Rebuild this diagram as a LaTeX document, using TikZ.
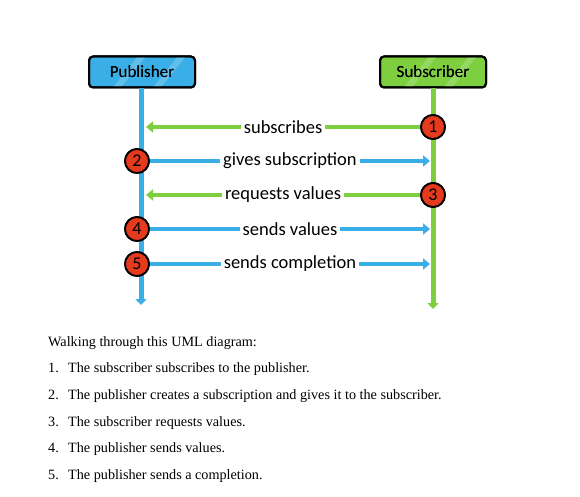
\documentclass[tikz,border=0pt]{standalone}
\usepackage{fontspec}
\setmainfont{Liberation Serif}
\newfontfamily\hand{Carlito}
\usetikzlibrary{arrows.meta}
\definecolor{pblue}{HTML}{3AAEE6}
\definecolor{pbluel}{HTML}{7CCBF0}
\definecolor{sgreen}{HTML}{7DCF3F}
\definecolor{sgreenl}{HTML}{A6E07A}
\definecolor{cred}{HTML}{E53A1E}
\tikzset{
  actor/.style={draw=black, line width=2pt, rounded corners=4pt, minimum width=106pt, minimum height=31pt, inner sep=0pt, font=\hand\fontsize{17}{17}\selectfont},
  num/.style={circle, draw=black, line width=1.8pt, fill=cred, minimum size=24pt, inner sep=0pt, font=\hand\fontsize{18}{18}\selectfont},
  life/.style={line width=5pt, -{Triangle[width=11pt,length=6pt]}},
  msg/.style={line width=4pt, -{Triangle[width=11pt,length=7pt]}},
  lbl/.style={fill=white, inner sep=3pt, font=\hand\fontsize{18.5}{18.5}\selectfont},
  body/.style={anchor=base west, inner sep=0pt, font=\fontsize{14.2}{14.2}\selectfont}
}
\begin{document}
\begin{tikzpicture}[x=1pt, y=-1pt]
\useasboundingbox (0,0) rectangle (580,497);
% actors
\node[actor, fill=pblue] (pub) at (142,72) {Publisher};
\node[actor, fill=sgreen] (sub) at (433,72) {Subscriber};
\begin{scope}
  \clip[rounded corners=4pt] (pub.south west) rectangle (pub.north east);
  \foreach \dx in {-30,10,50} \fill[pbluel, opacity=0.6] ([xshift=\dx pt]pub.south) -- ++(8,0) -- ++(25,-31) -- ++(-8,0) -- cycle;
\end{scope}
\begin{scope}
  \clip[rounded corners=4pt] (sub.south west) rectangle (sub.north east);
  \foreach \dx in {-30,10,50} \fill[sgreenl, opacity=0.6] ([xshift=\dx pt]sub.south) -- ++(8,0) -- ++(25,-31) -- ++(-8,0) -- cycle;
\end{scope}
\node[actor, fill=none] at (pub) {Publisher};
\node[actor, fill=none] at (sub) {Subscriber};
% lifelines
\coordinate (pubEnd) at (141,305);
\coordinate (subEnd) at (433,309);
\draw[life, pblue] ([xshift=-1pt]pub.south) -- (pubEnd);
\draw[life, sgreen] (sub.south) -- (subEnd);
% numbers
\node[num] (c1) at (433,127) {1};
\node[num] (c2) at (137,161) {2};
\node[num] (c3) at (433,195) {3};
\node[num] (c4) at (137,229) {4};
\node[num] (c5) at (137,264) {5};
% messages
\coordinate (p1) at (146,127);
\coordinate (s2) at (430,161);
\coordinate (p3) at (146,195);
\coordinate (s4) at (430,229);
\coordinate (s5) at (430,264);
\draw[msg, sgreen] (c1.west) -- node[lbl, text=black] {subscribes} (p1);
\draw[msg, pblue] (c2.east) -- node[lbl, text=black] {gives subscription} (s2);
\draw[msg, sgreen] (c3.west) -- node[lbl, text=black] {requests values} (p3);
\draw[msg, pblue] (c4.east) -- node[lbl, text=black] {sends values} (s4);
\draw[msg, pblue] (c5.east) -- node[lbl, text=black] {sends completion} (s5);
% redraw circles on top
\node[num] at (c1) {1};
\node[num] at (c2) {2};
\node[num] at (c3) {3};
\node[num] at (c4) {4};
\node[num] at (c5) {5};
% body text
\node[body] (t0) at (48,346) {Walking through this UML diagram:};
\node[body] (n1) at (48,372) {1.};
\node[body] (l1) at (68,372) {The subscriber subscribes to the publisher.};
\node[body] (n2) at (48,399) {2.};
\node[body] (l2) at (68,399) {The publisher creates a subscription and gives it to the subscriber.};
\node[body] (n3) at (48,426) {3.};
\node[body] (l3) at (68,426) {The subscriber requests values.};
\node[body] (n4) at (48,452) {4.};
\node[body] (l4) at (68,452) {The publisher sends values.};
\node[body] (n5) at (48,479) {5.};
\node[body] (l5) at (68,479) {The publisher sends a completion.};
\end{tikzpicture}
\end{document}
